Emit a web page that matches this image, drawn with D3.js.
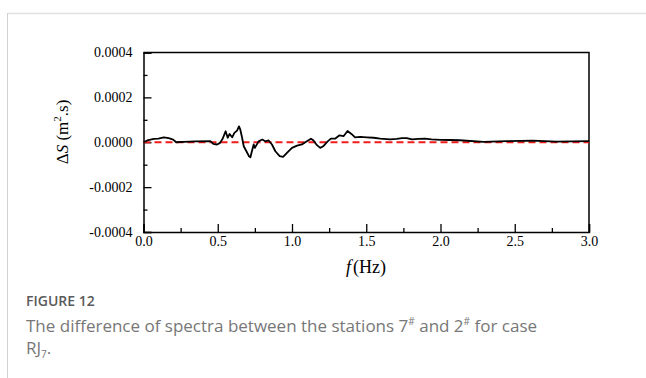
<!DOCTYPE html>
<html>
<head>
<meta charset="utf-8">
<script src="https://cdn.jsdelivr.net/npm/d3@7"></script>
<style>
body { margin: 0; background: #fff; }
#chart { width: 646px; height: 378px; }
</style>
</head>
<body>
<div id="chart"></div>
<script>
// frequency (Hz) and spectral difference (m^2.s)
var freq = [0.00, 0.025, 0.07, 0.10, 0.137, 0.17, 0.20, 0.22, 0.27, 0.35, 0.45, 0.47, 0.495, 0.513,
	0.53, 0.54, 0.553, 0.567, 0.58, 0.597, 0.612, 0.63, 0.643, 0.652, 0.664, 0.675, 0.693, 0.71,
	0.72, 0.73, 0.742, 0.75, 0.775, 0.80, 0.82, 0.843, 0.865, 0.888, 0.917, 0.94, 0.966, 1.0,
	1.034, 1.067, 1.10, 1.128, 1.145, 1.168, 1.19, 1.21, 1.24, 1.262, 1.29, 1.32, 1.347, 1.374,
	1.40, 1.425, 1.46, 1.504, 1.55, 1.594, 1.66, 1.706, 1.74, 1.773, 1.807, 1.85, 1.896, 1.94,
	2.0, 2.065, 2.13, 2.29, 2.446, 2.62, 2.78, 3.0];
var diffS = [0, 0.8e-5, 1.5e-5, 1.6e-5, 2.2e-5, 1.8e-5, 1.2e-5, 0, 0.2e-5, 0.4e-5, 0.5e-5, -0.7e-5, -1.0e-5, -0.4e-5,
	1.2e-5, 2.7e-5, 4.9e-5, 2.0e-5, 3.7e-5, 2.2e-5, 4.2e-5, 5.2e-5, 7.1e-5, 5.6e-5, 2.0e-5, -1.8e-5, -4.0e-5, -6.2e-5,
	-6.7e-5, -4.0e-5, -1.0e-5, -2.5e-5, 0.4e-5, 1.2e-5, 0.4e-5, 0.8e-5, -1.0e-5, -4.0e-5, -6.2e-5, -6.5e-5, -4.7e-5, -2.5e-5,
	-1.5e-5, -1.0e-5, 0.4e-5, 1.6e-5, 0.75e-5, -1.3e-5, -2.5e-5, -1.8e-5, 0.4e-5, 1.6e-5, 1.6e-5, 3.1e-5, 2.7e-5, 5.0e-5,
	3.7e-5, 2.2e-5, 2.4e-5, 2.2e-5, 2.0e-5, 1.6e-5, 1.3e-5, 1.5e-5, 1.8e-5, 1.8e-5, 1.3e-5, 1.5e-5, 1.6e-5, 1.3e-5,
	1.1e-5, 1.0e-5, 0.9e-5, 0.2e-5, 0.5e-5, 0.7e-5, 0.3e-5, 0.5e-5];
var xTicks = [0, 0.5, 1.0, 1.5, 2.0, 2.5, 3.0];
var xMinor = [0.25, 0.75, 1.25, 1.75, 2.25, 2.75];
var yTicks = [-0.0004, -0.0002, 0, 0.0002, 0.0004];
var yMinor = [-0.0003, -0.0001, 0.0001, 0.0003];

var w = 646, h = 378;
var mLeft = 143.5, mRight = 589, mTop = 52.5, mBottom = 232;

var svg = d3.select('#chart').append('svg').attr('width', w).attr('height', h);

// card borders
svg.append('line').attr('x1', 8).attr('x2', w).attr('y1', 13.5).attr('y2', 13.5)
	.attr('stroke', '#e0e0e0').attr('stroke-width', 1.5);
svg.append('line').attr('x1', 7.5).attr('x2', 7.5).attr('y1', 13).attr('y2', h)
	.attr('stroke', '#d0d0d0').attr('stroke-width', 1);

var x = d3.scaleLinear().domain([0, 3]).range([mLeft, mRight]);
var y = d3.scaleLinear().domain([-0.0004, 0.0004]).range([mBottom, mTop]);

var serif = '"Liberation Serif", "Times New Roman", serif';
var f4 = d3.format('.4f');

// x axis: inward ticks
var xAxis = svg.append('g').attr('transform', 'translate(0,' + mBottom + ')')
	.call(d3.axisBottom(x).tickValues(xTicks).tickSize(-8).tickPadding(4).tickFormat(d3.format('.1f')));
xAxis.selectAll('.tick line').attr('stroke-width', 1.3);
svg.append('g').attr('transform', 'translate(0,' + mBottom + ')')
	.call(d3.axisBottom(x).tickValues(xMinor).tickSize(-4).tickFormat(''))
	.call(function(g) { g.select('.domain').remove(); })
	.selectAll('.tick line').attr('stroke-width', 1.3);

var yAxis = svg.append('g').attr('transform', 'translate(' + mLeft + ',0)')
	.call(d3.axisLeft(y).tickValues(yTicks).tickSize(-8).tickPadding(11)
		.tickFormat(function(d) { return f4(d).replace('\u2212', '-'); }));
yAxis.selectAll('.tick line').attr('stroke-width', 1.3);
svg.append('g').attr('transform', 'translate(' + mLeft + ',0)')
	.call(d3.axisLeft(y).tickValues(yMinor).tickSize(-4).tickFormat(''))
	.call(function(g) { g.select('.domain').remove(); })
	.selectAll('.tick line').attr('stroke-width', 1.3);

svg.selectAll('.domain').attr('stroke-width', 1.5);
svg.selectAll('.tick text').attr('font-family', serif).attr('font-size', 14).attr('fill', '#000');

// frame (top and right)
svg.append('path')
	.attr('d', 'M' + mLeft + ',' + mTop + 'H' + mRight + 'V' + mBottom)
	.attr('fill', 'none').attr('stroke', '#000').attr('stroke-width', 1.5);

// zero reference
svg.append('line')
	.attr('x1', x(0)).attr('x2', x(3)).attr('y1', y(0)).attr('y2', y(0))
	.attr('stroke', '#f01c1c').attr('stroke-width', 1.8).attr('stroke-dasharray', '7,4');

var pts = freq.map(function(f, i) { return [f, diffS[i]]; });
var line = d3.line().x(function(d) { return x(d[0]); }).y(function(d) { return y(d[1]); });
svg.append('path').datum(pts)
	.attr('fill', 'none').attr('stroke', '#000').attr('stroke-width', 1.8)
	.attr('stroke-linejoin', 'round').attr('d', line);

// axis titles
var xt = svg.append('text').attr('x', 366).attr('y', 273).attr('text-anchor', 'middle')
	.attr('font-family', serif).attr('font-size', 18);
xt.append('tspan').attr('font-style', 'italic').text('f');
xt.append('tspan').attr('dx', 2).text('(Hz)');

var yt = svg.append('text').attr('transform', 'translate(68,132) rotate(-90)')
	.attr('text-anchor', 'middle').attr('font-family', serif).attr('font-size', 17);
yt.append('tspan').text('Δ');
yt.append('tspan').attr('font-style', 'italic').text('S');
yt.append('tspan').text(' (m');
yt.append('tspan').attr('font-size', 11).attr('dy', -7).text('2');
yt.append('tspan').attr('dy', 7).text('.s)');

// caption
var sans = '"Open Sans", "Noto Sans", sans-serif';
svg.append('text').attr('x', 26).attr('y', 306).attr('font-family', sans)
	.attr('font-size', 14).attr('font-weight', 600).attr('fill', '#5a5a5a').text('FIGURE 12');
var c1 = svg.append('text').attr('x', 26).attr('y', 332).attr('font-family', sans)
	.attr('font-size', 17).attr('fill', '#777');
c1.append('tspan').text('The difference of spectra between the stations 7');
c1.append('tspan').attr('font-size', 10).attr('dy', -7).text('#');
c1.append('tspan').attr('dy', 7).text(' and 2');
c1.append('tspan').attr('font-size', 10).attr('dy', -7).text('#');
c1.append('tspan').attr('dy', 7).text(' for case');
var c2 = svg.append('text').attr('x', 26).attr('y', 354).attr('font-family', sans)
	.attr('font-size', 17).attr('fill', '#777');
c2.append('tspan').text('RJ');
c2.append('tspan').attr('font-size', 10).attr('dy', 4).text('7');
c2.append('tspan').attr('dy', -4).text('.');
</script>
</body>
</html>
